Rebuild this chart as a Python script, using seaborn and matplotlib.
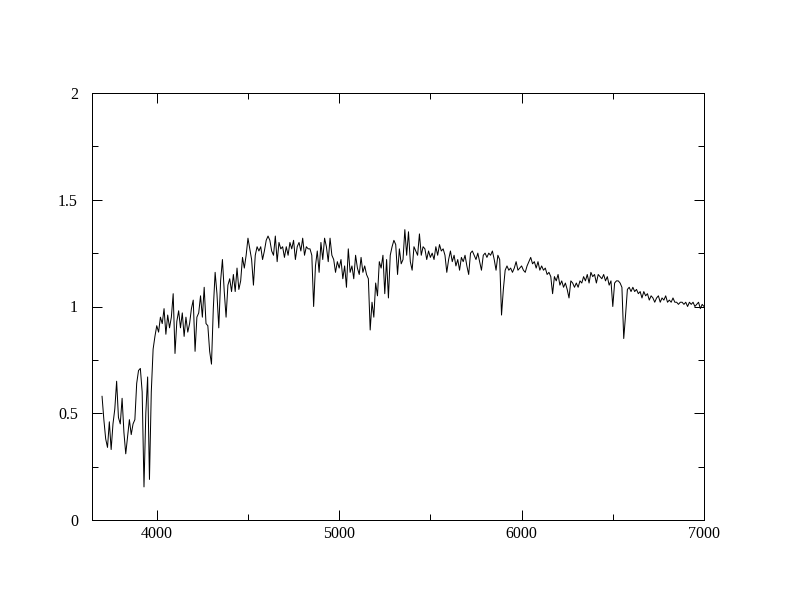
import numpy as np
import pandas as pd
import matplotlib
matplotlib.use("Agg")
import matplotlib.pyplot as plt
from matplotlib.ticker import MultipleLocator, FormatStrFormatter
import seaborn as sns

# wavelength grid of the spectrum (Angstrom), sampled every 10 A
wave_start, wave_stop, wave_step = 3700, 7000, 10
wavelength = np.arange(wave_start, wave_stop + 1, wave_step)

# normalised flux, one row per 100 A
flux = [
    0.58, 0.47, 0.38, 0.34, 0.46, 0.33, 0.45, 0.52, 0.65, 0.48,  # 3700
    0.45, 0.57, 0.41, 0.31, 0.39, 0.47, 0.40, 0.45, 0.47, 0.64,  # 3800
    0.70, 0.71, 0.60, 0.155, 0.50, 0.67, 0.19, 0.60, 0.80, 0.86,  # 3900
    0.91, 0.88, 0.95, 0.92, 0.99, 0.87, 0.96, 0.90, 0.95, 1.06,  # 4000
    0.78, 0.93, 0.98, 0.90, 0.97, 0.86, 0.95, 0.88, 0.92, 0.99,  # 4100
    1.03, 0.79, 0.95, 0.97, 1.05, 0.95, 1.09, 0.92, 0.91, 0.79,  # 4200
    0.73, 0.99, 1.16, 1.06, 0.90, 1.12, 1.22, 1.07, 0.95, 1.10,  # 4300
    1.13, 1.07, 1.15, 1.07, 1.18, 1.08, 1.12, 1.23, 1.18, 1.24,  # 4400
    1.32, 1.27, 1.22, 1.10, 1.24, 1.28, 1.26, 1.28, 1.22, 1.26,  # 4500
    1.31, 1.33, 1.31, 1.26, 1.24, 1.33, 1.21, 1.30, 1.27, 1.28,  # 4600
    1.23, 1.28, 1.24, 1.30, 1.27, 1.31, 1.22, 1.28, 1.30, 1.26,  # 4700
    1.32, 1.24, 1.28, 1.27, 1.27, 1.24, 1.00, 1.19, 1.26, 1.16,  # 4800
    1.30, 1.22, 1.32, 1.28, 1.21, 1.32, 1.24, 1.22, 1.16, 1.21,  # 4900
    1.18, 1.22, 1.13, 1.19, 1.09, 1.27, 1.16, 1.19, 1.13, 1.24,  # 5000
    1.18, 1.15, 1.23, 1.16, 1.19, 1.15, 1.13, 0.89, 1.02, 0.95,  # 5100
    1.11, 1.05, 1.21, 1.18, 1.24, 1.06, 1.22, 1.04, 1.24, 1.28,  # 5200
    1.31, 1.29, 1.15, 1.27, 1.20, 1.22, 1.36, 1.24, 1.35, 1.21,  # 5300
    1.17, 1.28, 1.26, 1.24, 1.34, 1.24, 1.28, 1.27, 1.22, 1.26,  # 5400
    1.23, 1.25, 1.22, 1.28, 1.24, 1.29, 1.26, 1.27, 1.24, 1.16,  # 5500
    1.22, 1.26, 1.21, 1.24, 1.19, 1.22, 1.17, 1.23, 1.21, 1.24,  # 5600
    1.19, 1.15, 1.25, 1.26, 1.24, 1.22, 1.25, 1.21, 1.17, 1.24,  # 5700
    1.25, 1.23, 1.25, 1.24, 1.26, 1.22, 1.17, 1.24, 1.22, 0.96,  # 5800
    1.08, 1.17, 1.19, 1.17, 1.18, 1.16, 1.18, 1.21, 1.17, 1.18,  # 5900
    1.19, 1.17, 1.16, 1.19, 1.21, 1.23, 1.20, 1.21, 1.18, 1.21,  # 6000
    1.17, 1.19, 1.17, 1.18, 1.15, 1.16, 1.14, 1.06, 1.14, 1.12,  # 6100
    1.15, 1.10, 1.12, 1.09, 1.11, 1.08, 1.04, 1.12, 1.11, 1.09,  # 6200
    1.11, 1.09, 1.12, 1.11, 1.14, 1.12, 1.15, 1.11, 1.16, 1.14,  # 6300
    1.15, 1.11, 1.15, 1.14, 1.13, 1.15, 1.12, 1.14, 1.10, 1.12,  # 6400
    1.00, 1.11, 1.12, 1.12, 1.11, 1.09, 0.85, 0.96, 1.08, 1.09,  # 6500
    1.07, 1.09, 1.07, 1.08, 1.06, 1.07, 1.04, 1.07, 1.05, 1.06,  # 6600
    1.03, 1.05, 1.04, 1.02, 1.04, 1.05, 1.02, 1.04, 1.03, 1.05,  # 6700
    1.02, 1.03, 1.02, 1.04, 1.02, 1.02, 1.01, 1.02, 1.02, 1.01,  # 6800
    1.02, 1.00, 1.02, 1.01, 1.02, 1.00, 1.01, 1.02, 0.99, 1.01,  # 6900
    1.00,
]

df = pd.DataFrame({"wavelength": wavelength, "flux": flux})

sns.set_style("white")
plt.rcParams['font.family'] = ['Liberation Serif', 'DejaVu Serif']

fig = plt.figure(figsize=(11, 8.5), dpi=72)
ax = fig.add_axes([92 / 792, 92 / 612, 612 / 792, 427 / 612])

sns.lineplot(data=df, x="wavelength", y="flux", color="black", linewidth=1.0,
             estimator=None, sort=False, ax=ax)

ax.set_xlim(3645, 7000)
ax.set_ylim(0, 2)
ax.set_xlabel("")
ax.set_ylabel("")

ax.xaxis.set_major_locator(MultipleLocator(1000))
ax.xaxis.set_minor_locator(MultipleLocator(500))
ax.yaxis.set_major_locator(MultipleLocator(0.5))
ax.yaxis.set_minor_locator(MultipleLocator(0.25))
ax.yaxis.set_major_formatter(FormatStrFormatter('%g'))

ax.tick_params(which='both', direction='in', top=True, right=True,
               bottom=True, left=True, colors='black', labelsize=16)
ax.tick_params(which='major', length=10, width=1)
ax.tick_params(which='minor', length=6, width=1)
ax.tick_params(axis='x', pad=6)
ax.tick_params(axis='y', pad=14)

for s in ax.spines.values():
    s.set_visible(True)
    s.set_color('black')
    s.set_linewidth(1)

fig.savefig("out.png", dpi=72, facecolor='white')
